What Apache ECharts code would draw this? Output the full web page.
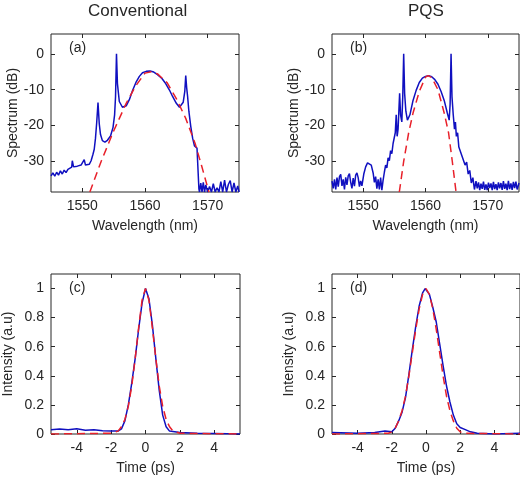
<!DOCTYPE html>
<html>
<head>
<meta charset="utf-8">
<script src="https://cdn.jsdelivr.net/npm/echarts@6/dist/echarts.min.js"></script>
<style>
  html, body { margin: 0; padding: 0; background: #fff; }
  #chart { width: 520px; height: 485px; }
</style>
</head>
<body>
<div id="chart"></div>
<script>
// spectrum (a) conventional, measured [nm, dB]
var specConvMeas = [
  [1545, -34], [1545.3, -33.2], [1545.6, -34.1], [1545.9, -33], [1546.2, -33.8], [1546.5, -32.6],
  [1546.8, -33.5], [1547.1, -32.4], [1547.4, -33.1], [1547.7, -32.2], [1548, -32.5], [1548.3, -31.6],
  [1548.4, -29.8], [1548.6, -31.5], [1548.9, -32], [1549.2, -31.3], [1549.5, -31.8], [1549.8, -31],
  [1550.1, -31.3], [1550.3, -29.5], [1550.5, -31], [1550.8, -30.6], [1551.1, -30.8], [1551.4, -29.8],
  [1551.7, -28], [1551.9, -26.6], [1552.1, -23.5], [1552.3, -19], [1552.5, -13.6], [1552.7, -19.5],
  [1552.9, -22.5], [1553.2, -24.2], [1553.6, -24.6], [1554, -24.1], [1554.5, -22.9], [1554.9, -20.5],
  [1555.15, -17], [1555.3, -11.9], [1555.45, 0], [1555.6, -8.3], [1555.9, -13.3], [1556.4, -14.9],
  [1557, -14.5], [1557.5, -12.8], [1558, -10.3], [1558.6, -7.8], [1559.1, -6.3], [1559.6, -5.3],
  [1560.2, -4.9], [1560.8, -4.8], [1561.4, -5.1], [1562, -5.8], [1562.7, -6.9], [1563.3, -8.3],
  [1563.9, -10.1], [1564.4, -11.9], [1565, -13.8], [1565.5, -14.9], [1565.8, -14.6], [1566.1, -13.5],
  [1566.35, -10.5], [1566.5, -6.1], [1566.65, -9.5], [1566.8, -11.9], [1567, -16], [1567.3, -20.2],
  [1567.6, -23.5], [1567.9, -25.7], [1568.3, -26.3], [1568.55, -26.8], [1568.6, -37.6], [1568.7, -38.5],
  [1568.9, -36], [1569.1, -38.5], [1569.3, -35.8], [1569.5, -38.5], [1569.7, -36.5], [1570, -38.5],
  [1570.3, -37], [1570.6, -38.5], [1570.9, -36.2], [1571.2, -38.5], [1571.5, -37.3], [1571.8, -38.5],
  [1572.1, -35.6], [1572.4, -38.5], [1572.7, -35.2], [1573, -38.5], [1573.3, -36.4], [1573.6, -35.3],
  [1573.9, -38.5], [1574.2, -36], [1574.5, -38.5], [1574.8, -36.8], [1575, -38.5]
];
var specConvFit = [
  [1551.2, -38.5], [1553, -30], [1555, -21.5], [1557, -13.8], [1558.5, -9], [1560, -5.4], [1561, -5],
  [1562, -5.6], [1563.5, -8], [1565, -12.5], [1566.5, -18], [1568, -25], [1569, -31], [1570.2, -38.5]
];
// spectrum (b) PQS
var specPqsMeas = [
  [1545, -35.5], [1545.2, -37.5], [1545.4, -35], [1545.6, -37.8], [1545.8, -34.5], [1546, -37],
  [1546.2, -34.2], [1546.4, -33.6], [1546.6, -36.8], [1546.8, -35], [1547, -37.8], [1547.2, -34.4],
  [1547.4, -36.5], [1547.6, -34], [1547.8, -33.4], [1548, -35.8], [1548.2, -37.5], [1548.4, -34.6],
  [1548.6, -36.9], [1548.8, -33.8], [1549, -33.2], [1549.2, -34.5], [1549.4, -37], [1549.6, -35.4],
  [1549.8, -36.8], [1550.1, -33.5], [1550.4, -31.5], [1550.7, -30.4], [1551, -30], [1551.3, -31],
  [1551.6, -33.2], [1551.8, -35.8], [1552, -34.2], [1552.2, -37.6], [1552.4, -35], [1552.6, -37.8],
  [1552.8, -34.5], [1553, -38], [1553.2, -35.2], [1553.4, -33], [1553.6, -31], [1553.8, -31.8],
  [1554, -29], [1554.2, -29.8], [1554.4, -27], [1554.6, -27.8], [1554.8, -25], [1555, -25.5],
  [1555.15, -22], [1555.3, -17], [1555.45, -23], [1555.6, -21], [1555.75, -15], [1555.85, -11],
  [1556, -17], [1556.2, -19], [1556.35, -12], [1556.5, 0], [1556.65, -11], [1556.85, -16],
  [1557.1, -18.5], [1557.5, -17], [1558, -13], [1558.5, -10.2], [1559, -8], [1559.5, -6.8],
  [1560, -6.3], [1560.5, -6.1], [1561, -6.4], [1561.5, -7.2], [1562, -8.5], [1562.5, -10.5],
  [1563, -13], [1563.5, -16.5], [1563.8, -18.5], [1563.95, -14], [1564.1, 0], [1564.25, -12],
  [1564.45, -17], [1564.65, -21], [1564.8, -19], [1564.95, -23], [1565.15, -22], [1565.35, -26],
  [1565.6, -25.5], [1565.85, -28.5], [1566.1, -28], [1566.35, -31], [1566.6, -30.2], [1566.85, -33.5],
  [1567.1, -32.5], [1567.35, -36], [1567.6, -34.5], [1567.85, -37.8], [1568.1, -35.5], [1568.3, -37.5],
  [1568.5, -35.8], [1568.7, -38], [1568.9, -36.2], [1569.1, -37.6], [1569.3, -35.6], [1569.5, -37.9],
  [1569.7, -36.4], [1569.9, -38], [1570.1, -35.9], [1570.3, -37.4], [1570.5, -36.1], [1570.7, -38],
  [1570.9, -35.7], [1571.1, -37.7], [1571.3, -36.3], [1571.5, -38], [1571.7, -35.8], [1571.9, -37.5],
  [1572.1, -36], [1572.3, -37.9], [1572.5, -35.5], [1572.7, -37.6], [1572.9, -36.2], [1573.1, -38],
  [1573.3, -35.4], [1573.5, -37.7], [1573.7, -36.1], [1573.9, -37.9], [1574.1, -35.7], [1574.3, -37.4],
  [1574.5, -35.6], [1574.7, -37.8], [1575, -36]
];
var specPqsFit = [
  [1555.8, -38.5], [1556.5, -30], [1557.3, -22], [1558, -16.5], [1559, -10.5], [1560, -6.5],
  [1560.4, -6.1], [1561, -6.6], [1562, -10], [1563, -16.5], [1563.7, -22], [1564.3, -30], [1564.9, -38.5]
];
// autocorrelation traces [ps, a.u.]
var acConvMeas = [
  [-5.5, 0.03], [-5, 0.035], [-4.5, 0.03], [-4, 0.036], [-3.5, 0.026], [-3, 0.03], [-2.5, 0.022],
  [-2, 0.02], [-1.6, 0.02], [-1.4, 0.035], [-1.2, 0.09], [-1, 0.2], [-0.8, 0.35], [-0.6, 0.52],
  [-0.4, 0.72], [-0.2, 0.9], [0, 1], [0.2, 0.93], [0.4, 0.75], [0.6, 0.52], [0.8, 0.3], [1, 0.13],
  [1.2, 0.05], [1.4, 0.02], [2, 0.01], [3, 0.005], [4, 0.003], [5.5, 0]
];
var acConvFit = [
  [-5.5, 0], [-2, 0.005], [-1.6, 0.02], [-1.4, 0.05], [-1.2, 0.1], [-1, 0.19], [-0.8, 0.33],
  [-0.6, 0.52], [-0.4, 0.73], [-0.2, 0.92], [0, 1], [0.2, 0.92], [0.4, 0.73], [0.6, 0.52],
  [0.8, 0.33], [1, 0.19], [1.2, 0.1], [1.4, 0.05], [1.6, 0.02], [2, 0.005], [5.5, 0]
];
var acPqsMeas = [
  [-5.5, 0.01], [-4, 0.005], [-3, 0.01], [-2.4, 0.02], [-2, 0.015], [-1.8, 0.04], [-1.6, 0.09],
  [-1.4, 0.15], [-1.2, 0.25], [-1, 0.41], [-0.8, 0.58], [-0.6, 0.74], [-0.4, 0.88], [-0.2, 0.97],
  [-0.05, 1], [0.2, 0.96], [0.4, 0.87], [0.6, 0.77], [0.8, 0.62], [1, 0.47], [1.2, 0.33],
  [1.4, 0.22], [1.6, 0.13], [1.8, 0.07], [2, 0.045], [2.3, 0.03], [2.6, 0.015], [3, 0.005],
  [4, 0], [5.5, 0.005]
];
var acPqsFit = [
  [-5.5, 0], [-2.2, 0.005], [-2, 0.015], [-1.8, 0.04], [-1.6, 0.09], [-1.4, 0.16], [-1.2, 0.26],
  [-1, 0.4], [-0.8, 0.56], [-0.6, 0.72], [-0.4, 0.86], [-0.2, 0.96], [0, 1], [0.2, 0.96],
  [0.4, 0.86], [0.6, 0.72], [0.8, 0.56], [1, 0.4], [1.2, 0.26], [1.4, 0.16], [1.6, 0.09],
  [1.8, 0.04], [2, 0.015], [2.2, 0.005], [5.5, 0]
];
var wlTicks = [1550, 1560, 1570];
var dbTicks = [-30, -20, -10, 0];
var timeTicks = [-4, -2, 0, 2, 4];
var intTicks = [0, 0.2, 0.4, 0.6, 0.8, 1];

var txt = "#262626";
var font = "Arial, 'Liberation Sans', sans-serif";
var grids = [
  { left: 51, top: 34, width: 188, height: 158 },
  { left: 332, top: 34, width: 187, height: 158 },
  { left: 51, top: 274, width: 189, height: 160 },
  { left: 332, top: 274, width: 188, height: 160 }
];
grids.forEach(function (g) { g.show = true; g.borderColor = txt; g.borderWidth = 1; });

function plain(v) { return String(+v.toFixed(1)); }

function axis(i, dim, spec, secondary) {
  var ticks, a;
  if (dim === "x") {
    ticks = spec ? wlTicks : timeTicks;
    a = {
      position: secondary ? "top" : "bottom",
      min: spec ? 1545 : -5.5, max: spec ? 1575 : 5.5,
      name: secondary ? "" : (spec ? "Wavelength (nm)" : "Time (ps)"), nameGap: 27
    };
  } else {
    ticks = spec ? dbTicks : intTicks;
    a = {
      position: secondary ? "right" : "left",
      min: spec ? -38.5 : 0, max: spec ? 5.5 : 1.1,
      name: secondary ? "" : (spec ? "Spectrum (dB)" : "Intensity (a.u)"), nameGap: spec ? 31 : 36
    };
  }
  a.gridIndex = i;
  a.type = "value";
  a.nameLocation = "middle";
  a.nameTextStyle = { color: txt, fontSize: 14, fontFamily: font };
  a.axisLine = { show: false, onZero: false };
  a.splitLine = { show: false };
  a.axisTick = { inside: true, length: 4, lineStyle: { color: txt }, customValues: ticks };
  a.axisLabel = { show: !secondary, color: txt, fontSize: 14, fontFamily: font, margin: 7,
    customValues: ticks, formatter: plain };
  return a;
}

var xAxis = [], yAxis = [];
[true, true, false, false].forEach(function (spec, i) {
  xAxis.push(axis(i, "x", spec, false), axis(i, "x", spec, true));
  yAxis.push(axis(i, "y", spec, false), axis(i, "y", spec, true));
});

function line(data, i, fit) {
  return {
    type: "line", xAxisIndex: i * 2, yAxisIndex: i * 2, data: data,
    showSymbol: false, silent: true, clip: true, animation: false,
    lineStyle: fit ? { color: "#e8202a", width: 1.5, type: [8, 5] } : { color: "#1010c0", width: 1.5 },
    z: fit ? 3 : 2
  };
}

var panelLabels = ["(a)", "(b)", "(c)", "(d)"];
var graphic = panelLabels.map(function (t, i) {
  return {
    type: "text", left: grids[i].left + 18, top: grids[i].top + 7,
    style: { text: t, fill: txt, font: "14px " + font }
  };
});
graphic.push({ type: "text", left: 88, top: 3, style: { text: "Conventional", fill: txt, font: "17px " + font } });
graphic.push({ type: "text", left: 408, top: 3, style: { text: "PQS", fill: txt, font: "17px " + font } });

var chart = echarts.init(document.getElementById("chart"));
chart.setOption({
  backgroundColor: "#fff",
  animation: false,
  grid: grids,
  xAxis: xAxis,
  yAxis: yAxis,
  graphic: graphic,
  series: [
    line(specConvMeas, 0), line(specConvFit, 0, true),
    line(specPqsMeas, 1), line(specPqsFit, 1, true),
    line(acConvMeas, 2), line(acConvFit, 2, true),
    line(acPqsMeas, 3), line(acPqsFit, 3, true)
  ]
});
</script>
</body>
</html>
